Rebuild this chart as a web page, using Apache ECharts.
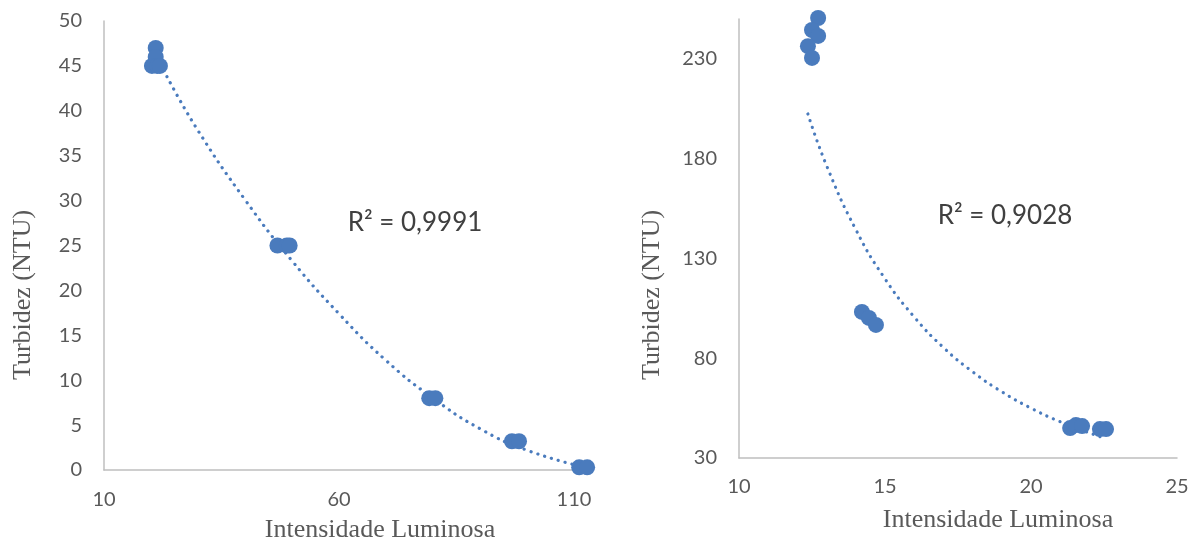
<!DOCTYPE html>
<html>
<head>
<meta charset="utf-8">
<script src="https://cdn.jsdelivr.net/npm/echarts@6/dist/echarts.min.js"></script>
<style>
  html, body { margin: 0; padding: 0; background: #ffffff; }
  #chart { width: 1199px; height: 542px; }
</style>
</head>
<body>
<div id="chart"></div>
<script>
// Left panel: turbidity vs light intensity, samples 0–47 NTU
const leftIntensity = [21.0, 21.0, 20.2, 21.3, 21.9, 46.9, 48.9, 49.5, 79.2, 80.5, 96.8, 98.3, 111.1, 112.8];
const leftTurbidity = [47, 46, 45, 45, 45, 25, 25, 25, 8, 8, 3.2, 3.2, 0.3, 0.3];
// Left trendline (polynomial), sampled along the curve
const leftTrendX = [23.4, 30, 40, 50, 60, 70, 80, 90, 100, 113];
const leftTrendY = [43.8, 37.8, 30.1, 23.3, 17.4, 12.2, 8.0, 4.6, 2.2, 0.2];
const leftR2 = 'R² = 0,9991';

// Right panel: turbidity vs light intensity, samples 45–250 NTU
const rightIntensity = [12.71, 12.50, 12.71, 12.36, 12.50, 14.21, 14.45, 14.69, 21.34, 21.54, 21.75, 22.36, 22.57];
const rightTurbidity = [250.5, 244.5, 241.5, 236.4, 230.5, 103.2, 100.2, 96.7, 45.0, 46.5, 46.0, 44.5, 44.5];
// Right trendline (power), sampled along the curve
const rightTrendX = [12.36, 13, 14, 15, 16, 17, 18, 19, 20, 21, 22.4];
const rightTrendY = [202.4, 176.5, 144.5, 119.8, 100.7, 85.4, 73.2, 63.2, 55.0, 48.2, 40.5];
const rightR2 = 'R² = 0,9028';

const xTitle = 'Intensidade Luminosa';
const yTitle = 'Turbidez (NTU)';

const blue = '#4a7bbd';
const labelColor = '#595959';
const axisLineColor = '#bfbfbf';
const tickFont = 'Lato, "Liberation Sans", sans-serif';
const titleFont = '"Liberation Serif", "DejaVu Serif", serif';

const pairs = (xs, ys) => xs.map((x, i) => [x, ys[i]]);

function valueAxis(gridIndex, min, max, interval, margin, showMax) {
  return {
    type: 'value', gridIndex, min, max, interval,
    axisLine: { show: true, lineStyle: { color: axisLineColor, width: 1.5 } },
    axisTick: { show: false },
    splitLine: { show: false },
    axisLabel: { color: labelColor, fontFamily: tickFont, fontSize: 20, margin, showMaxLabel: showMax }
  };
}

function scatter(idx, data) {
  return {
    type: 'scatter', xAxisIndex: idx, yAxisIndex: idx, data,
    symbol: 'circle', symbolSize: 16, clip: false,
    itemStyle: { color: blue, opacity: 1 }, z: 3
  };
}

function trend(idx, data) {
  return {
    type: 'line', xAxisIndex: idx, yAxisIndex: idx, data,
    smooth: true, showSymbol: false, symbol: 'none', clip: false,
    lineStyle: { color: blue, width: 3.2, type: [0.1, 7], cap: 'round' }, z: 2
  };
}

function text(x, y, content, font, size, color, rotation) {
  return {
    type: 'text', x, y, rotation: rotation || 0,
    style: { text: content, font: size + 'px ' + font, fill: color, align: 'center', verticalAlign: 'middle' }
  };
}

const chart = echarts.init(document.getElementById('chart'));
chart.setOption({
  animation: false,
  backgroundColor: '#ffffff',
  grid: [
    { left: 104, width: 470, top: 21, bottom: 72 },
    { left: 739, right: 22, top: 19, bottom: 84 }
  ],
  xAxis: [
    valueAxis(0, 10, 110, 50, 20, true),
    valueAxis(1, 10, 25, 5, 19, true)
  ],
  yAxis: [
    valueAxis(0, 0, 50, 5, 22, true),
    valueAxis(1, 30, 250, 50, 22, false)
  ],
  series: [
    trend(0, pairs(leftTrendX, leftTrendY)),
    scatter(0, pairs(leftIntensity, leftTurbidity)),
    trend(1, pairs(rightTrendX, rightTrendY)),
    scatter(1, pairs(rightIntensity, rightTurbidity))
  ],
  graphic: [
    text(380, 530, xTitle, titleFont, 26, labelColor),
    text(998, 520, xTitle, titleFont, 26, labelColor),
    text(23, 295, yTitle, titleFont, 26, labelColor, Math.PI / 2),
    text(652, 295, yTitle, titleFont, 26, labelColor, Math.PI / 2),
    text(415, 223, leftR2, tickFont, 26, '#404040'),
    text(1005, 216, rightR2, tickFont, 26, '#404040')
  ]
});
</script>
</body>
</html>
